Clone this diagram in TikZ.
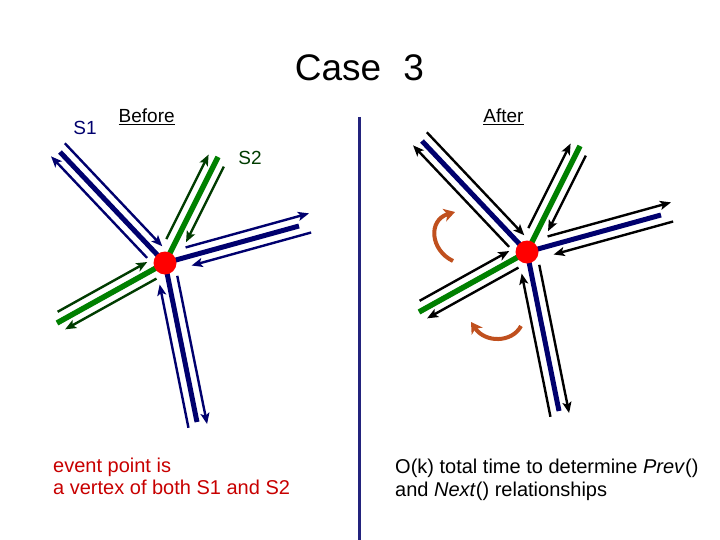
\documentclass[tikz,border=0pt]{standalone}
\usepackage{fontspec}
\setmainfont{Liberation Sans}
\usetikzlibrary{calc,arrows.meta}
\definecolor{navyc}{RGB}{0,0,110}
\definecolor{greenc}{RGB}{0,128,0}
\definecolor{dgreen}{RGB}{0,60,0}
\definecolor{redtxt}{RGB}{200,0,0}
\definecolor{orangec}{RGB}{192,80,30}
\definecolor{divider}{RGB}{35,35,125}
\tikzset{
  harrow/.style={line width=2.4pt,-{Stealth[length=11pt,width=9pt,inset=2.5pt]}},
  navyedge/.style={navyc,line width=5pt},
  greenedge/.style={greenc,line width=5.5pt},
  dot/.style={circle,fill=red,minimum size=23pt,inner sep=0pt},
  turn/.style={orangec,line width=4pt,-{Stealth[length=11pt,width=13pt,inset=3pt]}},
  lbl/.style={inner sep=0pt,font=\fontsize{19}{22}\selectfont},
}
% #1 vertex, #2 dx, #3 dy, #4 edge style, #5 arrow colour,
% #6 out start (from vertex), #7 out end (beyond tip), #8 in start (beyond tip), #9 in end (from vertex)
\newcommand\myedge[9]{%
  \coordinate (E) at ($(#1)+(#2,#3)$);
  \draw[#4] (#1) -- (E);
  \coordinate (p1) at ($(#1)!#6!(E)$);
  \coordinate (p2) at ($(E)!#7!180:(#1)$);
  \draw[harrow,#5] ($(p1)!9.5pt!-90:(#1)$) -- ($(p2)!9.5pt!-90:(#1)$);
  \coordinate (q1) at ($(E)!#8!180:(#1)$);
  \coordinate (q2) at ($(#1)!#9!(E)$);
  \draw[harrow,#5] ($(q1)!9.5pt!90:(#1)$) -- ($(q2)!9.5pt!90:(#1)$);
}
% #1 vertex, #2 arrow colour on S1 edges, #3 arrow colour on S2 edges
\newcommand\mystar[3]{%
  \myedge{#1}{-105}{-111}{navyedge}{#2}{16pt}{3pt}{3pt}{14pt}
  \myedge{#1}{53}{-106}{greenedge}{#3}{22pt}{-2pt}{-6pt}{28pt}
  \myedge{#1}{134}{-37}{navyedge}{#2}{24pt}{13pt}{10pt}{25pt}
  \myedge{#1}{-108}{60}{greenedge}{#3}{15pt}{-4pt}{-6pt}{15pt}
  \myedge{#1}{32}{159}{navyedge}{#2}{15pt}{4pt}{4pt}{20pt}
}
\begin{document}
\begin{tikzpicture}[x=1pt,y=-1pt]
\useasboundingbox (0,0) rectangle (720,540);
\fill[white] (0,0) rectangle (720,540);

\node[anchor=base,inner sep=0pt,font=\fontsize{37}{42}\selectfont] (title) at (359.5,81) {Case\hspace{0.6em}3};

\draw[divider,line width=3pt] (359,117) coordinate (dtop) -- (359,540) coordinate (dbot);

\node[lbl,anchor=base,text=navyc] (s1) at (85,135) {S1};
\node[lbl,anchor=base west] (before) at (118.5,123) {\underline{Before}};
\node[lbl,anchor=base,text=dgreen] (s2) at (250,165) {S2};
\node[lbl,anchor=base] (after) at (503.5,123) {\underline{After}};

% Before
\coordinate (VL) at (165,263);
\mystar{VL}{navyc}{dgreen}
\node[dot] (vl) at (VL) {};

% After
\coordinate (VR) at (527,252);
\mystar{VR}{black}{black}
\node[dot] (vr) at (VR) {};

\coordinate (t1a) at (453,261);
\coordinate (t1b) at (455,212);
\draw[turn] (t1a) .. controls (430,250) and (428,220) .. (t1b);
\coordinate (t2a) at (521,326);
\coordinate (t2b) at (471,322);
\draw[turn] (t2a) .. controls (512,343) and (485,343) .. (t2b);

\node[lbl,anchor=base west,align=left,text=redtxt,font=\fontsize{20}{22}\selectfont] (ev) at (53,494)
  {event point is\\a vertex of both S1 and S2};
\node[lbl,anchor=base west,align=left,font=\fontsize{20}{22.5}\selectfont] (ok) at (395,496)
  {O(k) total time to determine \textit{Prev}()\\and \textit{Next}() relationships};
\end{tikzpicture}
\end{document}
